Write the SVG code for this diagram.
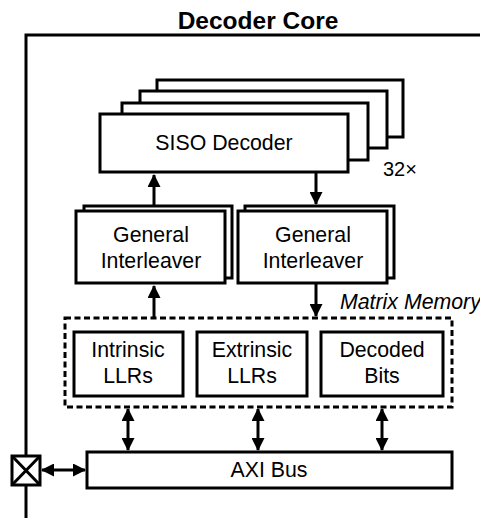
<svg xmlns="http://www.w3.org/2000/svg" width="480" height="518" viewBox="0 0 480 518">
<style>
.b{fill:#fff;stroke:#000;stroke-width:3}
.l{fill:none;stroke:#000;stroke-width:3}
.t{font-family:"Liberation Sans",Arial,sans-serif;font-size:21.3px;text-anchor:middle;fill:#000}
</style>
<defs>
<marker id="ah" markerWidth="13" markerHeight="13" viewBox="0 0 13 13" refX="12" refY="6.5" orient="auto-start-reverse" markerUnits="userSpaceOnUse">
<path d="M0,0 L13,6.5 L0,13 Z" fill="#000"/>
</marker>
</defs>
<rect width="480" height="518" fill="#fff"/>
<g id="frame">
<text x="258" y="29" class="t" style="font-weight:bold;font-size:24.5px">Decoder Core</text>
<path class="l" d="M26,518 V35 H480"/>
</g>
<g id="connectors">
<line class="l" x1="154" y1="206" x2="154" y2="175" marker-end="url(#ah)"/>
<line class="l" x1="316" y1="172" x2="316" y2="204" marker-end="url(#ah)"/>
<line class="l" x1="154" y1="318" x2="154" y2="286" marker-end="url(#ah)"/>
<line class="l" x1="316" y1="283" x2="316" y2="316" marker-end="url(#ah)"/>
<line class="l" x1="128" y1="409" x2="128" y2="450" marker-start="url(#ah)" marker-end="url(#ah)"/>
<line class="l" x1="258" y1="409" x2="258" y2="450" marker-start="url(#ah)" marker-end="url(#ah)"/>
<line class="l" x1="382" y1="409" x2="382" y2="450" marker-start="url(#ah)" marker-end="url(#ah)"/>
<line class="l" x1="42" y1="470" x2="85" y2="470" marker-start="url(#ah)" marker-end="url(#ah)"/>
</g>
<g id="siso">
<rect class="b" x="157" y="80" width="246" height="57"/>
<rect class="b" x="140" y="91" width="247" height="57"/>
<rect class="b" x="122" y="103" width="246" height="57"/>
<rect class="b" x="100" y="114" width="248" height="58"/>
<text class="t" x="224" y="150">SISO Decoder</text>
<text class="t" x="383" y="176" style="text-anchor:start;font-size:20px">32×</text>
</g>
<g id="interleaver1">
<rect class="b" x="84" y="206" width="148" height="72"/>
<rect class="b" x="76" y="211" width="149" height="72"/>
<text class="t" x="151" y="242">General</text>
<text class="t" x="151" y="268">Interleaver</text>
</g>
<g id="interleaver2">
<rect class="b" x="245" y="206" width="149" height="72"/>
<rect class="b" x="238" y="211" width="149" height="72"/>
<text class="t" x="313" y="242">General</text>
<text class="t" x="313" y="268">Interleaver</text>
</g>
<g id="matrix-memory">
<rect x="65" y="318" width="387" height="89" fill="none" stroke="#000" stroke-width="3" stroke-dasharray="6,3.5"/>
<text class="t" x="340" y="309" style="text-anchor:start;font-style:italic">Matrix Memory</text>
</g>
<g id="intrinsic">
<rect class="b" x="74" y="332" width="109" height="64"/>
<text class="t" x="128" y="357">Intrinsic</text>
<text class="t" x="128" y="383">LLRs</text>
</g>
<g id="extrinsic">
<rect class="b" x="197" y="332" width="110" height="64"/>
<text class="t" x="252" y="357">Extrinsic</text>
<text class="t" x="252" y="383">LLRs</text>
</g>
<g id="decoded">
<rect class="b" x="321" y="332" width="122" height="64"/>
<text class="t" x="382" y="357">Decoded</text>
<text class="t" x="382" y="383">Bits</text>
</g>
<g id="axi">
<rect class="b" x="87" y="452" width="365" height="36"/>
<text class="t" x="269" y="477">AXI Bus</text>
</g>
<g id="port">
<rect class="b" x="12" y="456" width="28" height="29"/>
<path class="l" d="M12,456 L40,485 M40,456 L12,485"/>
</g>
</svg>
